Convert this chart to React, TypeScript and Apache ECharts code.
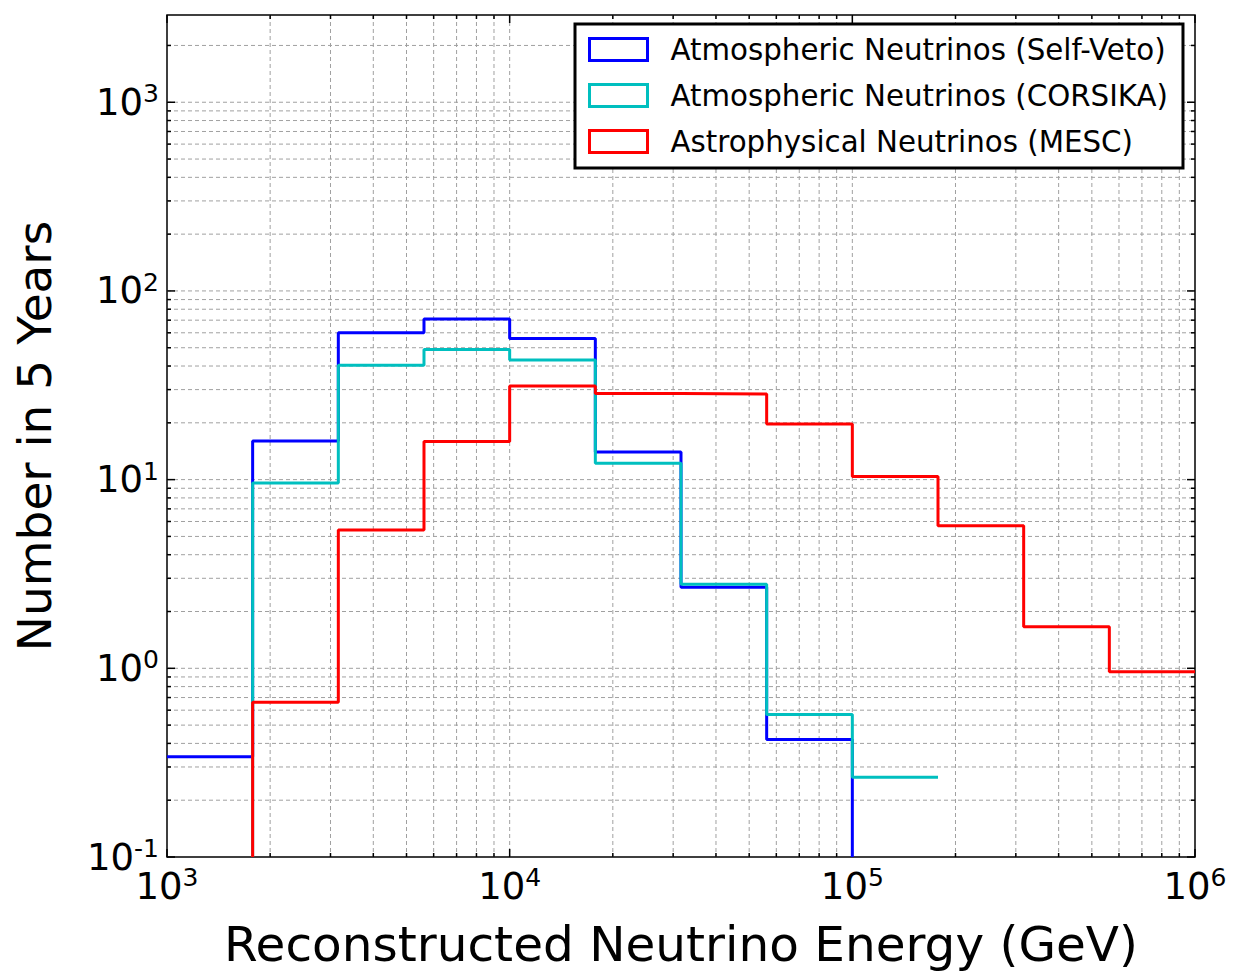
import React, { useEffect, useRef } from "react";
import * as echarts from "echarts";

// Bin edges (GeV), quarter-decade bins from 1e3 to 1e6
const BIN_EDGES = [1000, 1778, 3162, 5623, 10000, 17783, 31623, 56234, 100000, 177828, 316228, 562341, 1000000];
// Counts per bin (null = empty bin)
const SELF_VETO = [0.34, 16.0, 60, 71, 56, 14.0, 2.69, 0.42, null, null, null, null];
const CORSIKA = [null, 9.6, 40.4, 49, 43, 12.2, 2.79, 0.57, 0.265, null, null, null];
const MESC = [null, 0.66, 5.4, 15.9, 31.3, 28.6, 28.4, 19.7, 10.4, 5.7, 1.66, 0.96];

const SERIES_NAMES = [
  "Atmospheric Neutrinos (Self-Veto)",
  "Atmospheric Neutrinos (CORSIKA)",
  "Astrophysical Neutrinos (MESC)",
];
const SERIES_COLORS = ["#0000ff", "#00bfbf", "#ff0000"];

const X_MIN = 1000;
const X_MAX = 1000000;
const Y_MIN = 0.1;
const Y_MAX = 2900;

const X_DECADES = [1000, 10000, 100000];
const Y_DECADES = [0.1, 1, 10, 100, 1000];
const MULTIPLIERS = [1, 2, 3, 4, 5, 6, 7, 8, 9];

const FONT = "DejaVu Sans";

function tickValues(decades: number[], max: number): number[] {
  const out: number[] = [];
  decades.forEach((d) => MULTIPLIERS.forEach((m) => {
    const v = +(d * m).toPrecision(6);
    if (v <= max) out.push(v);
  }));
  const last = decades[decades.length - 1] * 10;
  if (last <= max) out.push(last);
  return out;
}

function isPow10(v: number): boolean {
  const e = Math.round(Math.log10(v));
  return Math.abs(v - Math.pow(10, e)) < 1e-6 * v;
}

function stepPoints(vals: (number | null)[], riseFromFloor: boolean, dropToFloor: boolean): number[][] {
  const pts: number[][] = [];
  let first = -1;
  let last = -1;
  vals.forEach((v, i) => {
    if (v != null) {
      if (first < 0) first = i;
      last = i;
    }
  });
  if (riseFromFloor) pts.push([BIN_EDGES[first], Y_MIN]);
  for (let i = first; i <= last; i++) {
    const v = vals[i] as number;
    pts.push([BIN_EDGES[i], v], [BIN_EDGES[i + 1], v]);
  }
  if (dropToFloor) pts.push([BIN_EDGES[last + 1], Y_MIN]);
  return pts;
}

function powLabel(v: number): string {
  if (!isPow10(v)) return "";
  const e = Math.round(Math.log10(v));
  return `{b|10}{s|${e}}`;
}

const GRID_STROKE = "#a0a0a0";

export default function App() {
  const ref = useRef<HTMLDivElement>(null);
  useEffect(() => {
    if (!ref.current) return;
    const chart = echarts.init(ref.current, undefined, { renderer: "svg" });

    const xTicks = tickValues(X_DECADES, X_MAX);
    const yTicks = tickValues(Y_DECADES, Y_MAX);

    const labelRich = {
      b: { fontSize: 37, fontFamily: FONT, color: "#000", lineHeight: 42 },
      s: { fontSize: 25, fontFamily: FONT, color: "#000", verticalAlign: "top", lineHeight: 25 },
    };

    const option: any = {
      animation: false,
      backgroundColor: "#fff",
      grid: {
        left: 167,
        right: 46,
        top: 15,
        bottom: 116,
        show: true,
        borderColor: "#000",
        borderWidth: 1.5,
        backgroundColor: "#fff",
        outerBoundsMode: "none",
      },
      xAxis: {
        type: "log",
        logBase: 10,
        min: X_MIN,
        max: X_MAX,
        name: "Reconstructed Neutrino Energy (GeV)",
        nameLocation: "middle",
        nameGap: 62,
        nameTextStyle: { fontSize: 48.5, fontFamily: FONT, color: "#000" },
        axisLine: { show: false },
        axisTick: { show: false },
        splitLine: { show: false },
        minorTick: { show: false },
        axisLabel: {
          margin: 8,
          showMinLabel: true,
          showMaxLabel: true,
          formatter: (v: number) => powLabel(v),
          rich: labelRich,
        },
      },
      yAxis: {
        type: "log",
        logBase: 10,
        min: Y_MIN,
        max: Y_MAX,
        name: "Number in 5 Years",
        nameLocation: "middle",
        nameGap: 109,
        nameTextStyle: { fontSize: 47, fontFamily: FONT, color: "#000" },
        axisLine: { show: false },
        axisTick: { show: false },
        splitLine: { show: false },
        axisLabel: {
          margin: 8,
          showMinLabel: true,
          formatter: (v: number) => powLabel(v),
          rich: labelRich,
        },
      },
      legend: {
        orient: "vertical",
        left: 575,
        top: 24,
        padding: [11, 15, 12, 13],
        itemGap: 17,
        itemWidth: 58,
        itemHeight: 22,
        backgroundColor: "#fff",
        borderColor: "#000",
        borderWidth: 3,
        borderRadius: 0,
        icon: "rect",
        textStyle: { fontSize: 29.3, fontFamily: FONT, color: "#000", padding: [0, 0, 0, 18] },
        data: SERIES_NAMES.map((n, i) => ({
          name: n,
          icon: "rect",
          itemStyle: { color: "rgba(0,0,0,0)", borderColor: SERIES_COLORS[i], borderWidth: 3 },
        })),
      },
      series: [
        {
          name: "xgrid",
          type: "custom",
          silent: true,
          z: 1,
          data: xTicks.map((v) => [v, 1]),
          renderItem: (params: any, api: any) => {
            const cs = params.coordSys;
            const v = api.value(0);
            const x = api.coord([v, 1])[0];
            const tl = isPow10(v) ? 8 : 4;
            const children: any[] = [];
            if (x > cs.x + 1 && x < cs.x + cs.width - 1) {
              children.push({ type: "line", shape: { x1: x, y1: cs.y, x2: x, y2: cs.y + cs.height }, style: { stroke: GRID_STROKE, lineWidth: 1, lineDash: [4, 3] } });
            }
            children.push({ type: "line", shape: { x1: x, y1: cs.y + cs.height, x2: x, y2: cs.y + cs.height - tl }, style: { stroke: "#000", lineWidth: 1.5 } });
            children.push({ type: "line", shape: { x1: x, y1: cs.y, x2: x, y2: cs.y + tl }, style: { stroke: "#000", lineWidth: 1.5 } });
            return { type: "group", children };
          },
        },
        {
          name: "ygrid",
          type: "custom",
          silent: true,
          z: 1,
          data: yTicks.map((v) => [10000, v]),
          renderItem: (params: any, api: any) => {
            const cs = params.coordSys;
            const v = api.value(1);
            const y = api.coord([10000, v])[1];
            const tl = isPow10(v) ? 8 : 4;
            const children: any[] = [];
            if (y > cs.y + 1 && y < cs.y + cs.height - 1) {
              children.push({ type: "line", shape: { x1: cs.x, y1: y, x2: cs.x + cs.width, y2: y }, style: { stroke: GRID_STROKE, lineWidth: 1, lineDash: [4, 3] } });
            }
            children.push({ type: "line", shape: { x1: cs.x, y1: y, x2: cs.x + tl, y2: y }, style: { stroke: "#000", lineWidth: 1.5 } });
            children.push({ type: "line", shape: { x1: cs.x + cs.width, y1: y, x2: cs.x + cs.width - tl, y2: y }, style: { stroke: "#000", lineWidth: 1.5 } });
            return { type: "group", children };
          },
        },
        {
          name: SERIES_NAMES[0],
          type: "line",
          z: 3,
          symbol: "none",
          clip: true,
          color: SERIES_COLORS[0],
          lineStyle: { color: SERIES_COLORS[0], width: 3 },
          data: stepPoints(SELF_VETO, false, true),
        },
        {
          name: SERIES_NAMES[1],
          type: "line",
          z: 3,
          symbol: "none",
          clip: true,
          color: SERIES_COLORS[1],
          lineStyle: { color: SERIES_COLORS[1], width: 3 },
          data: stepPoints(CORSIKA, true, false),
        },
        {
          name: SERIES_NAMES[2],
          type: "line",
          z: 3,
          symbol: "none",
          clip: true,
          color: SERIES_COLORS[2],
          lineStyle: { color: SERIES_COLORS[2], width: 3 },
          data: stepPoints(MESC, true, false),
        },
      ],
    };

    chart.setOption(option);
    return () => chart.dispose();
  }, []);

  return (
    <div
      ref={ref}
      style={{ position: "absolute", left: 0, top: 0, width: 1241, height: 973 }}
    />
  );
}
